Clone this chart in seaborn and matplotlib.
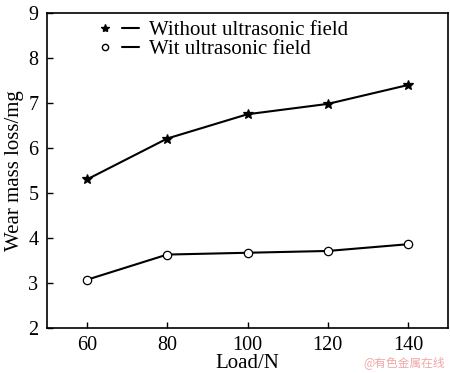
import pandas as pd
import matplotlib.pyplot as plt
import seaborn as sns
from matplotlib.lines import Line2D
from matplotlib.legend_handler import HandlerTuple

# data
load = [60, 80, 100, 120, 140]
without_us = [5.30, 6.21, 6.75, 6.98, 7.40]
with_us = [3.07, 3.63, 3.67, 3.71, 3.86]
labels = ["Without ultrasonic field", "Wit ultrasonic field"]

df = pd.DataFrame({
    "load": load * 2,
    "wear": without_us + with_us,
    "series": [labels[0]] * 5 + [labels[1]] * 5,
})

sns.set_style("ticks", {"axes.edgecolor": "black", "text.color": "black",
                        "axes.labelcolor": "black", "xtick.color": "black",
                        "ytick.color": "black"})
plt.rcParams['font.family'] = ['Liberation Serif', 'DejaVu Serif']
plt.rcParams['xtick.direction'] = 'in'
plt.rcParams['ytick.direction'] = 'in'

fig = plt.figure(figsize=(4.5, 3.73), dpi=100)
ax = fig.add_axes([0.104, 0.121, 0.892, 0.844])

sns.lineplot(data=df, x="load", y="wear", style="series", hue="series",
             palette=["black", "black"], markers=["*", "o"], dashes=False,
             markersize=6, markerfacecolor="white", linewidth=1.5,
             markeredgecolor="black", markeredgewidth=0.9, ax=ax, legend=False)
# fill the stars black
ax.lines[0].set_markerfacecolor("black")
ax.lines[0].set_markersize(7)

ax.set_xlim(50, 150)
ax.set_ylim(2, 9)
ax.set_xticks(load)
ax.set_yticks(range(2, 10))
ax.tick_params(labelsize=14.5, length=4, width=1, pad=6)
ax.set_xlabel("Load/N", fontsize=15, labelpad=-1)
ax.set_ylabel("Wear mass loss/mg", fontsize=15, labelpad=3)
for s in ax.spines.values():
    s.set_linewidth(1.2)

h1 = (Line2D([], [], marker="*", color="black", ls="none", markersize=6),
      Line2D([], [], color="black", lw=1.5))
h2 = (Line2D([], [], marker="o", color="black", mfc="white", ls="none", markersize=4.5),
      Line2D([], [], color="black", lw=1.5))
ax.legend([h1, h2], labels, handler_map={tuple: HandlerTuple(ndivide=None, pad=0.4)},
          loc="upper left", bbox_to_anchor=(0.125, 0.977), frameon=False,
          borderpad=0, borderaxespad=0,
          fontsize=15, handlelength=2.0, handletextpad=0.5, labelspacing=0.0)

fig.text(0.99, 0.01, "@有色金属在线", ha="right", va="bottom", fontsize=8.5,
         color="#f0a8a8", family=["Noto Sans CJK SC", "DejaVu Sans"])

fig.savefig("out.png", dpi=100)
